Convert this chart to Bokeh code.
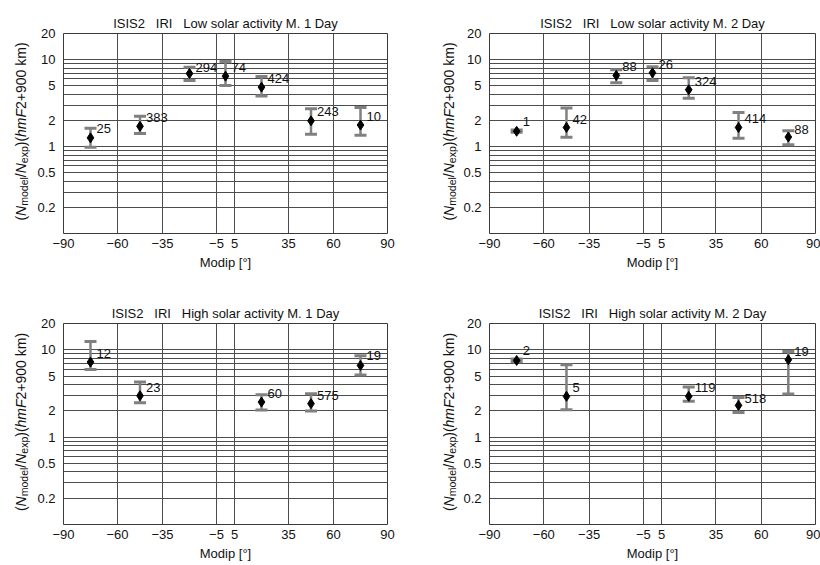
import math
from bokeh.plotting import figure
from bokeh.models import Range1d, FixedTicker, ColumnDataSource
from bokeh.layouts import column, row
from bokeh.embed import file_html
from bokeh.resources import INLINE
from bokeh.core.properties import value

FONT = "Liberation Sans"
NB = "\u00a0"
GRAY = "#808080"
GRID = "#4d4d4d"
TXT = "#111111"

# ---------------- data ----------------
x_ticks = [-90, -60, -35, -5, 5, 35, 60, 90]
x_tick_labels = ["\u221290", "\u221260", "\u221235", "\u22125", "5", "35", "60", "90"]
y_ticks = [0.2, 0.5, 1, 2, 5, 10, 20]
y_tick_labels = ["0.2", "0.5", "1", "2", "5", "10", "20"]
y_grid = [0.2, 0.3, 0.4, 0.5, 0.6, 0.7, 0.8, 0.9, 1, 2, 3, 4, 5, 6, 7, 8, 9, 10]

titles = [
    "ISIS2" + NB * 3 + "IRI" + NB * 3 + "Low solar activity M. 1 Day",
    "ISIS2" + NB * 3 + "IRI" + NB * 3 + "Low solar activity M. 2 Day",
    "ISIS2" + NB * 3 + "IRI" + NB * 3 + "High solar activity M. 1 Day",
    "ISIS2" + NB * 3 + "IRI" + NB * 3 + "High solar activity M. 2 Day",
]
x_label = "Modip [°]"

# Low solar activity, M. 1 Day
low1_modip = [-75, -47.5, -20, 0, 20, 47.5, 75]
low1_ratio = [1.26, 1.71, 6.93, 6.46, 4.83, 1.98, 1.77]
low1_upper = [1.63, 2.24, 8.2, 9.53, 6.41, 2.72, 2.82]
low1_lower = [0.98, 1.41, 5.77, 5.05, 3.81, 1.39, 1.35]
low1_counts = [25, 383, 294, 74, 424, 243, 10]
low1_label_y = [1.63, 2.15, 8.2, 8.2, 6.0, 2.5, 2.19]

# Low solar activity, M. 2 Day
low2_modip = [-75, -47.5, -20, 0, 20, 47.5, 75]
low2_ratio = [1.50, 1.66, 6.58, 7.06, 4.51, 1.66, 1.29]
low2_upper = [1.55, 2.77, 7.64, 8.28, 6.19, 2.47, 1.52]
low2_lower = [1.46, 1.28, 5.43, 5.77, 3.61, 1.25, 1.05]
low2_counts = [1, 42, 88, 26, 324, 414, 88]
low2_label_y = [1.95, 2.07, 8.34, 8.8, 5.62, 2.09, 1.58]

# High solar activity, M. 1 Day
high1_modip = [-75, -47.5, 20, 47.5, 75]
high1_ratio = [7.23, 2.98, 2.52, 2.42, 6.62]
high1_upper = [12.45, 4.27, 3.06, 3.14, 8.54]
high1_lower = [5.96, 2.48, 2.05, 1.99, 5.14]
high1_counts = [12, 23, 60, 575, 19]
high1_label_y = [9.08, 3.68, 3.17, 2.96, 8.54]

# High solar activity, M. 2 Day
high2_modip = [-75, -47.5, 20, 47.5, 75]
high2_ratio = [7.55, 2.93, 2.93, 2.31, 7.69]
high2_upper = [7.85, 6.75, 3.74, 2.85, 9.57]
high2_lower = [7.30, 2.06, 2.57, 1.92, 3.11]
high2_counts = [2, 5, 119, 518, 19]
high2_label_y = [9.75, 3.68, 3.68, 2.78, 9.66]

# Helvetica/Arial advance widths (1/1000 em) for the y-label pieces
ADV = {"(": 333, ")": 333, "N": 722, "m": 833, "o": 556, "d": 556, "e": 556,
       "l": 222, "/": 278, "x": 500, "p": 556, "h": 556, "F": 611, "2": 556,
       "+": 584, "9": 556, "0": 556, " ": 278, "k": 500}

Y_PIECES = [
    ("(", 14, "normal", False),
    ("N", 14, "italic", False),
    ("model", 10.5, "normal", True),
    ("/", 14, "normal", False),
    ("N", 14, "italic", False),
    ("exp", 10.5, "normal", True),
    (")(", 14, "normal", False),
    ("hmF", 14, "italic", False),
    ("2+900 km)", 14, "normal", False),
]


def text_len(s, size):
    return sum(ADV[c] for c in s) / 1000.0 * size


def make_ylabel(width, fh, bt, bb, baseline_x):
    """A narrow canvas whose frame matches the panel frame; carries the
    rotated y-axis title, positioned in pixel units."""
    q = figure(width=width, height=bt + fh + bb,
               min_border_left=0, min_border_right=0,
               min_border_top=bt, min_border_bottom=bb,
               x_range=Range1d(0, width), y_range=Range1d(0, fh),
               x_axis_location=None, y_axis_location=None,
               output_backend="svg", toolbar_location=None)
    q.outline_line_color = None
    q.xgrid.visible = False
    q.ygrid.visible = False
    q.background_fill_color = "white"
    q.border_fill_color = "white"
    total = sum(text_len(s, sz) for s, sz, _, _ in Y_PIECES)
    pos = fh / 2.0 + 2 - total / 2.0
    for s, sz, style, sub in Y_PIECES:
        q.text(x=[baseline_x + (3 if sub else 0)], y=[pos], text=[s],
               angle=math.pi / 2, text_align="left",
               text_baseline="alphabetic", text_font=value(FONT),
               text_font_size=value(f"{sz}px"),
               text_font_style=value(style), text_color=TXT)
        pos += text_len(s, sz)
    return q


def make_panel(title, modip, ratio, upper, lower, counts, label_y,
               fw, fh, bl, br, bt, bb):
    p = figure(width=bl + fw + br, height=bt + fh + bb,
               min_border_left=bl, min_border_right=br,
               min_border_top=bt, min_border_bottom=bb,
               x_range=Range1d(-90, 90), y_range=Range1d(0.1, 20),
               y_axis_type="log", output_backend="svg",
               toolbar_location=None, title=title)
    p.background_fill_color = "white"
    p.border_fill_color = "white"
    p.outline_line_color = "#3a3a3a"
    p.outline_line_width = 1

    p.title.text_font = FONT
    p.title.text_font_size = "13px"
    p.title.text_font_style = "normal"
    p.title.text_color = TXT
    p.title.align = "center"
    p.title.standoff = 6

    p.xgrid.ticker = FixedTicker(ticks=x_ticks)
    p.ygrid.ticker = FixedTicker(ticks=y_grid)
    for g in (p.xgrid, p.ygrid):
        g.grid_line_color = GRID
        g.grid_line_width = 1

    ax = p.xaxis[0]
    ax.ticker = FixedTicker(ticks=x_ticks)
    ax.major_label_overrides = dict(zip(x_ticks, x_tick_labels))
    ax.axis_label = x_label
    ax.axis_label_standoff = 4
    ax.major_label_standoff = 5

    ay = p.yaxis[0]
    ay.ticker = FixedTicker(ticks=y_ticks)
    ay.major_label_overrides = dict(zip(y_ticks, y_tick_labels))
    ay.major_label_standoff = 8

    for a in (ax, ay):
        a.axis_line_color = None
        a.major_tick_line_color = None
        a.minor_tick_line_color = None
        a.major_tick_out = 0
        a.major_tick_in = 0
        a.minor_tick_out = 0
        a.minor_tick_in = 0
        a.major_label_text_font = FONT
        a.major_label_text_font_size = "13px"
        a.major_label_text_color = TXT
        a.axis_label_text_font = FONT
        a.axis_label_text_font_size = "13px"
        a.axis_label_text_font_style = "normal"
        a.axis_label_text_color = TXT

    src = ColumnDataSource(dict(x=modip, y=ratio, up=upper, lo=lower,
                                lab=[str(c) for c in counts], ly=label_y))
    p.segment(x0="x", y0="lo", x1="x", y1="up", line_color=GRAY,
              line_width=2.5, source=src)
    p.scatter(x="x", y="up", marker="dash", size=12, line_color=GRAY,
              line_width=3, source=src)
    p.scatter(x="x", y="lo", marker="dash", size=12, line_color=GRAY,
              line_width=3, source=src)
    p.scatter(x="x", y="y", marker="diamond", size=10, fill_color="black",
              line_color="black", source=src)
    p.text(x="x", y="ly", text="lab", x_offset=6, text_align="left",
           text_baseline="middle", text_font=value(FONT),
           text_font_size="13px", text_color=TXT, source=src)
    return p


# left column: label canvas 34 px + panel 376 px (frame 61..387)
# right column: label canvas 50 px + panel 360 px (frame 489..815)
l1 = make_ylabel(34, 200, 33, 57, 20.5)
p1 = make_panel(titles[0], low1_modip, low1_ratio, low1_upper, low1_lower,
                low1_counts, low1_label_y, 326, 200, 27, 23, 33, 57)
l2 = make_ylabel(50, 200, 33, 57, 38)
p2 = make_panel(titles[1], low2_modip, low2_ratio, low2_upper, low2_lower,
                low2_counts, low2_label_y, 326, 200, 29, 5, 33, 57)
l3 = make_ylabel(34, 201, 33, 40, 20.5)
p3 = make_panel(titles[2], high1_modip, high1_ratio, high1_upper, high1_lower,
                high1_counts, high1_label_y, 326, 201, 27, 23, 33, 40)
l4 = make_ylabel(50, 201, 33, 40, 38)
p4 = make_panel(titles[3], high2_modip, high2_ratio, high2_upper, high2_lower,
                high2_counts, high2_label_y, 326, 201, 29, 5, 33, 40)

layout = column(row(l1, p1, l2, p2), row(l3, p3, l4, p4))
open("out.html", "w").write(file_html(layout, INLINE))
